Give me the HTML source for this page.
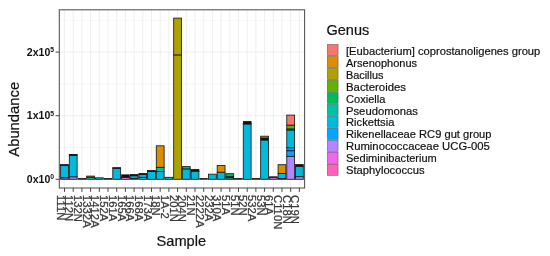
<!DOCTYPE html><html><head><meta charset="utf-8"><title>Abundance by Sample</title>
<style>html,body{margin:0;padding:0;background:#fff;}body{width:550px;height:256px;overflow:hidden;}svg{display:block;font-family:"Liberation Sans",sans-serif;}</style></head><body>
<svg width="550" height="256" viewBox="0 0 550 256">
<rect x="0" y="0" width="550" height="256" fill="#ffffff"/>
<g><line x1="59.3" x2="304.6" y1="147.50" y2="147.50" stroke="#efefef" stroke-width="0.5"/><line x1="59.3" x2="304.6" y1="83.90" y2="83.90" stroke="#efefef" stroke-width="0.5"/><line x1="59.3" x2="304.6" y1="20.30" y2="20.30" stroke="#efefef" stroke-width="0.5"/><line x1="59.3" x2="304.6" y1="179.30" y2="179.30" stroke="#ebebeb" stroke-width="0.8"/><line x1="59.3" x2="304.6" y1="115.70" y2="115.70" stroke="#ebebeb" stroke-width="0.8"/><line x1="59.3" x2="304.6" y1="52.10" y2="52.10" stroke="#ebebeb" stroke-width="0.8"/><line x1="64.52" x2="64.52" y1="9.8" y2="188.0" stroke="#ebebeb" stroke-width="0.8"/><line x1="73.22" x2="73.22" y1="9.8" y2="188.0" stroke="#ebebeb" stroke-width="0.8"/><line x1="81.92" x2="81.92" y1="9.8" y2="188.0" stroke="#ebebeb" stroke-width="0.8"/><line x1="90.61" x2="90.61" y1="9.8" y2="188.0" stroke="#ebebeb" stroke-width="0.8"/><line x1="99.31" x2="99.31" y1="9.8" y2="188.0" stroke="#ebebeb" stroke-width="0.8"/><line x1="108.01" x2="108.01" y1="9.8" y2="188.0" stroke="#ebebeb" stroke-width="0.8"/><line x1="116.71" x2="116.71" y1="9.8" y2="188.0" stroke="#ebebeb" stroke-width="0.8"/><line x1="125.41" x2="125.41" y1="9.8" y2="188.0" stroke="#ebebeb" stroke-width="0.8"/><line x1="134.11" x2="134.11" y1="9.8" y2="188.0" stroke="#ebebeb" stroke-width="0.8"/><line x1="142.81" x2="142.81" y1="9.8" y2="188.0" stroke="#ebebeb" stroke-width="0.8"/><line x1="151.50" x2="151.50" y1="9.8" y2="188.0" stroke="#ebebeb" stroke-width="0.8"/><line x1="160.20" x2="160.20" y1="9.8" y2="188.0" stroke="#ebebeb" stroke-width="0.8"/><line x1="168.90" x2="168.90" y1="9.8" y2="188.0" stroke="#ebebeb" stroke-width="0.8"/><line x1="177.60" x2="177.60" y1="9.8" y2="188.0" stroke="#ebebeb" stroke-width="0.8"/><line x1="186.30" x2="186.30" y1="9.8" y2="188.0" stroke="#ebebeb" stroke-width="0.8"/><line x1="195.00" x2="195.00" y1="9.8" y2="188.0" stroke="#ebebeb" stroke-width="0.8"/><line x1="203.70" x2="203.70" y1="9.8" y2="188.0" stroke="#ebebeb" stroke-width="0.8"/><line x1="212.40" x2="212.40" y1="9.8" y2="188.0" stroke="#ebebeb" stroke-width="0.8"/><line x1="221.09" x2="221.09" y1="9.8" y2="188.0" stroke="#ebebeb" stroke-width="0.8"/><line x1="229.79" x2="229.79" y1="9.8" y2="188.0" stroke="#ebebeb" stroke-width="0.8"/><line x1="238.49" x2="238.49" y1="9.8" y2="188.0" stroke="#ebebeb" stroke-width="0.8"/><line x1="247.19" x2="247.19" y1="9.8" y2="188.0" stroke="#ebebeb" stroke-width="0.8"/><line x1="255.89" x2="255.89" y1="9.8" y2="188.0" stroke="#ebebeb" stroke-width="0.8"/><line x1="264.59" x2="264.59" y1="9.8" y2="188.0" stroke="#ebebeb" stroke-width="0.8"/><line x1="273.29" x2="273.29" y1="9.8" y2="188.0" stroke="#ebebeb" stroke-width="0.8"/><line x1="281.98" x2="281.98" y1="9.8" y2="188.0" stroke="#ebebeb" stroke-width="0.8"/><line x1="290.68" x2="290.68" y1="9.8" y2="188.0" stroke="#ebebeb" stroke-width="0.8"/><line x1="299.38" x2="299.38" y1="9.8" y2="188.0" stroke="#ebebeb" stroke-width="0.8"/></g>
<g><rect x="60.60" y="177.80" width="7.83" height="1.50" fill="#B385FF" stroke="#1a1a1a" stroke-width="0.85"/><rect x="60.60" y="165.30" width="7.83" height="12.50" fill="#00BADE" stroke="#1a1a1a" stroke-width="0.85"/><rect x="60.60" y="164.40" width="7.83" height="0.90" fill="#111" stroke="#111" stroke-width="0.6"/><rect x="69.30" y="176.80" width="7.83" height="2.50" fill="#B385FF" stroke="#1a1a1a" stroke-width="0.85"/><rect x="69.30" y="155.60" width="7.83" height="21.20" fill="#00BADE" stroke="#1a1a1a" stroke-width="0.85"/><rect x="69.30" y="154.90" width="7.83" height="0.70" fill="#111" stroke="#111" stroke-width="0.6"/><rect x="69.30" y="154.50" width="7.83" height="0.40" fill="#DB8E00" stroke="#1a1a1a" stroke-width="0.85"/><rect x="78.00" y="178.30" width="7.83" height="1.00" fill="#111" stroke="#111" stroke-width="0.6"/><rect x="86.70" y="177.30" width="7.83" height="2.00" fill="#00C1A7" stroke="#1a1a1a" stroke-width="0.85"/><rect x="86.70" y="176.10" width="7.83" height="1.20" fill="#DB8E00" stroke="#1a1a1a" stroke-width="0.85"/><rect x="95.40" y="177.80" width="7.83" height="1.50" fill="#00BADE" stroke="#1a1a1a" stroke-width="0.85"/><rect x="104.10" y="178.30" width="7.83" height="1.00" fill="#111" stroke="#111" stroke-width="0.6"/><rect x="112.80" y="168.30" width="7.83" height="11.00" fill="#00BADE" stroke="#1a1a1a" stroke-width="0.85"/><rect x="112.80" y="167.50" width="7.83" height="0.80" fill="#111" stroke="#111" stroke-width="0.6"/><rect x="121.49" y="177.30" width="7.83" height="2.00" fill="#EF67EB" stroke="#1a1a1a" stroke-width="0.85"/><rect x="121.49" y="174.80" width="7.83" height="2.50" fill="#111" stroke="#111" stroke-width="0.6"/><rect x="130.19" y="178.30" width="7.83" height="1.00" fill="#111" stroke="#111" stroke-width="0.6"/><rect x="130.19" y="175.80" width="7.83" height="2.50" fill="#00BADE" stroke="#1a1a1a" stroke-width="0.85"/><rect x="130.19" y="174.30" width="7.83" height="1.50" fill="#111" stroke="#111" stroke-width="0.6"/><rect x="138.89" y="177.30" width="7.83" height="2.00" fill="#00BADE" stroke="#1a1a1a" stroke-width="0.85"/><rect x="138.89" y="174.30" width="7.83" height="3.00" fill="#00BADE" stroke="#1a1a1a" stroke-width="0.85"/><rect x="138.89" y="173.30" width="7.83" height="1.00" fill="#111" stroke="#111" stroke-width="0.6"/><rect x="147.59" y="171.30" width="7.83" height="8.00" fill="#00BADE" stroke="#1a1a1a" stroke-width="0.85"/><rect x="147.59" y="170.30" width="7.83" height="1.00" fill="#111" stroke="#111" stroke-width="0.6"/><rect x="156.29" y="171.60" width="7.83" height="7.70" fill="#00BADE" stroke="#1a1a1a" stroke-width="0.85"/><rect x="156.29" y="167.30" width="7.83" height="4.30" fill="#00C1A7" stroke="#1a1a1a" stroke-width="0.85"/><rect x="156.29" y="145.80" width="7.83" height="21.50" fill="#DB8E00" stroke="#1a1a1a" stroke-width="0.85"/><rect x="164.99" y="177.30" width="7.83" height="2.00" fill="#00C1A7" stroke="#1a1a1a" stroke-width="0.85"/><rect x="173.69" y="54.90" width="7.83" height="124.40" fill="#AEA200" stroke="#1a1a1a" stroke-width="0.85"/><rect x="173.69" y="18.10" width="7.83" height="36.80" fill="#AEA200" stroke="#1a1a1a" stroke-width="0.85"/><rect x="182.38" y="168.90" width="7.83" height="10.40" fill="#00BADE" stroke="#1a1a1a" stroke-width="0.85"/><rect x="182.38" y="166.60" width="7.83" height="2.30" fill="#00BD5C" stroke="#1a1a1a" stroke-width="0.85"/><rect x="191.08" y="171.30" width="7.83" height="8.00" fill="#00BADE" stroke="#1a1a1a" stroke-width="0.85"/><rect x="191.08" y="170.30" width="7.83" height="1.00" fill="#DB8E00" stroke="#1a1a1a" stroke-width="0.85"/><rect x="191.08" y="169.30" width="7.83" height="1.00" fill="#111" stroke="#111" stroke-width="0.6"/><rect x="199.78" y="178.30" width="7.83" height="1.00" fill="#111" stroke="#111" stroke-width="0.6"/><rect x="208.48" y="174.20" width="7.83" height="5.10" fill="#00BADE" stroke="#1a1a1a" stroke-width="0.85"/><rect x="217.18" y="172.20" width="7.83" height="7.10" fill="#00BADE" stroke="#1a1a1a" stroke-width="0.85"/><rect x="217.18" y="165.40" width="7.83" height="6.80" fill="#DB8E00" stroke="#1a1a1a" stroke-width="0.85"/><rect x="225.88" y="177.80" width="7.83" height="1.50" fill="#00C1A7" stroke="#1a1a1a" stroke-width="0.85"/><rect x="225.88" y="176.40" width="7.83" height="1.40" fill="#111" stroke="#111" stroke-width="0.6"/><rect x="225.88" y="173.70" width="7.83" height="2.70" fill="#00BD5C" stroke="#1a1a1a" stroke-width="0.85"/><rect x="234.58" y="178.30" width="7.83" height="1.00" fill="#111" stroke="#111" stroke-width="0.6"/><rect x="243.28" y="124.00" width="7.83" height="55.30" fill="#00BADE" stroke="#1a1a1a" stroke-width="0.85"/><rect x="243.28" y="123.30" width="7.83" height="0.70" fill="#00C1A7" stroke="#1a1a1a" stroke-width="0.85"/><rect x="243.28" y="121.30" width="7.83" height="2.00" fill="#111" stroke="#111" stroke-width="0.6"/><rect x="251.97" y="178.30" width="7.83" height="1.00" fill="#111" stroke="#111" stroke-width="0.6"/><rect x="260.67" y="140.00" width="7.83" height="39.30" fill="#00BADE" stroke="#1a1a1a" stroke-width="0.85"/><rect x="260.67" y="138.00" width="7.83" height="2.00" fill="#111" stroke="#111" stroke-width="0.6"/><rect x="260.67" y="136.20" width="7.83" height="1.80" fill="#DB8E00" stroke="#1a1a1a" stroke-width="0.85"/><rect x="269.37" y="177.30" width="7.83" height="2.00" fill="#B385FF" stroke="#1a1a1a" stroke-width="0.85"/><rect x="269.37" y="176.80" width="7.83" height="0.50" fill="#111" stroke="#111" stroke-width="0.6"/><rect x="278.07" y="178.60" width="7.83" height="0.70" fill="#B385FF" stroke="#1a1a1a" stroke-width="0.85"/><rect x="278.07" y="173.40" width="7.83" height="5.20" fill="#00BADE" stroke="#1a1a1a" stroke-width="0.85"/><rect x="278.07" y="164.70" width="7.83" height="8.70" fill="#DB8E00" stroke="#1a1a1a" stroke-width="0.85"/><rect x="286.77" y="156.30" width="7.83" height="23.00" fill="#B385FF" stroke="#1a1a1a" stroke-width="0.85"/><rect x="286.77" y="150.70" width="7.83" height="5.60" fill="#00A6FF" stroke="#1a1a1a" stroke-width="0.85"/><rect x="286.77" y="147.70" width="7.83" height="3.00" fill="#00A6FF" stroke="#1a1a1a" stroke-width="0.85"/><rect x="286.77" y="130.00" width="7.83" height="17.70" fill="#00BADE" stroke="#1a1a1a" stroke-width="0.85"/><rect x="286.77" y="128.90" width="7.83" height="1.10" fill="#00C1A7" stroke="#1a1a1a" stroke-width="0.85"/><rect x="286.77" y="125.10" width="7.83" height="3.80" fill="#64B200" stroke="#1a1a1a" stroke-width="0.85"/><rect x="286.77" y="115.10" width="7.83" height="10.00" fill="#F8766D" stroke="#1a1a1a" stroke-width="0.85"/><rect x="295.47" y="176.70" width="7.83" height="2.60" fill="#B385FF" stroke="#1a1a1a" stroke-width="0.85"/><rect x="295.47" y="166.30" width="7.83" height="10.40" fill="#00BADE" stroke="#1a1a1a" stroke-width="0.85"/><rect x="295.47" y="164.30" width="7.83" height="2.00" fill="#111" stroke="#111" stroke-width="0.6"/></g>
<rect x="59.3" y="9.8" width="245.3" height="178.2" fill="none" stroke="#505050" stroke-width="1.05"/>
<g><line x1="64.52" x2="64.52" y1="188.0" y2="191.9" stroke="#333" stroke-width="0.9"/><line x1="73.22" x2="73.22" y1="188.0" y2="191.9" stroke="#333" stroke-width="0.9"/><line x1="81.92" x2="81.92" y1="188.0" y2="191.9" stroke="#333" stroke-width="0.9"/><line x1="90.61" x2="90.61" y1="188.0" y2="191.9" stroke="#333" stroke-width="0.9"/><line x1="99.31" x2="99.31" y1="188.0" y2="191.9" stroke="#333" stroke-width="0.9"/><line x1="108.01" x2="108.01" y1="188.0" y2="191.9" stroke="#333" stroke-width="0.9"/><line x1="116.71" x2="116.71" y1="188.0" y2="191.9" stroke="#333" stroke-width="0.9"/><line x1="125.41" x2="125.41" y1="188.0" y2="191.9" stroke="#333" stroke-width="0.9"/><line x1="134.11" x2="134.11" y1="188.0" y2="191.9" stroke="#333" stroke-width="0.9"/><line x1="142.81" x2="142.81" y1="188.0" y2="191.9" stroke="#333" stroke-width="0.9"/><line x1="151.50" x2="151.50" y1="188.0" y2="191.9" stroke="#333" stroke-width="0.9"/><line x1="160.20" x2="160.20" y1="188.0" y2="191.9" stroke="#333" stroke-width="0.9"/><line x1="168.90" x2="168.90" y1="188.0" y2="191.9" stroke="#333" stroke-width="0.9"/><line x1="177.60" x2="177.60" y1="188.0" y2="191.9" stroke="#333" stroke-width="0.9"/><line x1="186.30" x2="186.30" y1="188.0" y2="191.9" stroke="#333" stroke-width="0.9"/><line x1="195.00" x2="195.00" y1="188.0" y2="191.9" stroke="#333" stroke-width="0.9"/><line x1="203.70" x2="203.70" y1="188.0" y2="191.9" stroke="#333" stroke-width="0.9"/><line x1="212.40" x2="212.40" y1="188.0" y2="191.9" stroke="#333" stroke-width="0.9"/><line x1="221.09" x2="221.09" y1="188.0" y2="191.9" stroke="#333" stroke-width="0.9"/><line x1="229.79" x2="229.79" y1="188.0" y2="191.9" stroke="#333" stroke-width="0.9"/><line x1="238.49" x2="238.49" y1="188.0" y2="191.9" stroke="#333" stroke-width="0.9"/><line x1="247.19" x2="247.19" y1="188.0" y2="191.9" stroke="#333" stroke-width="0.9"/><line x1="255.89" x2="255.89" y1="188.0" y2="191.9" stroke="#333" stroke-width="0.9"/><line x1="264.59" x2="264.59" y1="188.0" y2="191.9" stroke="#333" stroke-width="0.9"/><line x1="273.29" x2="273.29" y1="188.0" y2="191.9" stroke="#333" stroke-width="0.9"/><line x1="281.98" x2="281.98" y1="188.0" y2="191.9" stroke="#333" stroke-width="0.9"/><line x1="290.68" x2="290.68" y1="188.0" y2="191.9" stroke="#333" stroke-width="0.9"/><line x1="299.38" x2="299.38" y1="188.0" y2="191.9" stroke="#333" stroke-width="0.9"/><line x1="55.6" x2="59.3" y1="179.30" y2="179.30" stroke="#333" stroke-width="0.9"/><line x1="55.6" x2="59.3" y1="115.70" y2="115.70" stroke="#333" stroke-width="0.9"/><line x1="55.6" x2="59.3" y1="52.10" y2="52.10" stroke="#333" stroke-width="0.9"/></g>
<g><text x="54.0" y="183.00" text-anchor="end" font-size="10.5" font-weight="bold" fill="#111">0x10<tspan font-size="6.8" dy="-3.7">0</tspan></text><text x="54.0" y="119.40" text-anchor="end" font-size="10.5" font-weight="bold" fill="#111">1x10<tspan font-size="6.8" dy="-3.7">5</tspan></text><text x="54.0" y="55.80" text-anchor="end" font-size="10.5" font-weight="bold" fill="#111">2x10<tspan font-size="6.8" dy="-3.7">5</tspan></text></g>
<g><text transform="translate(56.62,195.0) rotate(90)" font-size="11.3" fill="#3a3a3a" stroke="#3a3a3a" stroke-width="0.25">111N</text><text transform="translate(65.32,195.0) rotate(90)" font-size="11.3" fill="#3a3a3a" stroke="#3a3a3a" stroke-width="0.25">112N</text><text transform="translate(74.02,195.0) rotate(90)" font-size="11.3" fill="#3a3a3a" stroke="#3a3a3a" stroke-width="0.25">132N</text><text transform="translate(82.71,195.0) rotate(90)" font-size="11.3" fill="#3a3a3a" stroke="#3a3a3a" stroke-width="0.25">1332A</text><text transform="translate(91.41,195.0) rotate(90)" font-size="11.3" fill="#3a3a3a" stroke="#3a3a3a" stroke-width="0.25">1412A</text><text transform="translate(100.11,195.0) rotate(90)" font-size="11.3" fill="#3a3a3a" stroke="#3a3a3a" stroke-width="0.25">152A</text><text transform="translate(108.81,195.0) rotate(90)" font-size="11.3" fill="#3a3a3a" stroke="#3a3a3a" stroke-width="0.25">161A</text><text transform="translate(117.51,195.0) rotate(90)" font-size="11.3" fill="#3a3a3a" stroke="#3a3a3a" stroke-width="0.25">165A</text><text transform="translate(126.21,195.0) rotate(90)" font-size="11.3" fill="#3a3a3a" stroke="#3a3a3a" stroke-width="0.25">166A</text><text transform="translate(134.91,195.0) rotate(90)" font-size="11.3" fill="#3a3a3a" stroke="#3a3a3a" stroke-width="0.25">168A</text><text transform="translate(143.60,195.0) rotate(90)" font-size="11.3" fill="#3a3a3a" stroke="#3a3a3a" stroke-width="0.25">173A</text><text transform="translate(152.30,195.0) rotate(90)" font-size="11.3" fill="#3a3a3a" stroke="#3a3a3a" stroke-width="0.25">18N</text><text transform="translate(161.00,195.0) rotate(90)" font-size="11.3" fill="#3a3a3a" stroke="#3a3a3a" stroke-width="0.25">1A-2</text><text transform="translate(169.70,195.0) rotate(90)" font-size="11.3" fill="#3a3a3a" stroke="#3a3a3a" stroke-width="0.25">201N</text><text transform="translate(178.40,195.0) rotate(90)" font-size="11.3" fill="#3a3a3a" stroke="#3a3a3a" stroke-width="0.25">204N</text><text transform="translate(187.10,195.0) rotate(90)" font-size="11.3" fill="#3a3a3a" stroke="#3a3a3a" stroke-width="0.25">21N</text><text transform="translate(195.80,195.0) rotate(90)" font-size="11.3" fill="#3a3a3a" stroke="#3a3a3a" stroke-width="0.25">2222A</text><text transform="translate(204.50,195.0) rotate(90)" font-size="11.3" fill="#3a3a3a" stroke="#3a3a3a" stroke-width="0.25">232A</text><text transform="translate(213.19,195.0) rotate(90)" font-size="11.3" fill="#3a3a3a" stroke="#3a3a3a" stroke-width="0.25">310A</text><text transform="translate(221.89,195.0) rotate(90)" font-size="11.3" fill="#3a3a3a" stroke="#3a3a3a" stroke-width="0.25">51A</text><text transform="translate(230.59,195.0) rotate(90)" font-size="11.3" fill="#3a3a3a" stroke="#3a3a3a" stroke-width="0.25">51N</text><text transform="translate(239.29,195.0) rotate(90)" font-size="11.3" fill="#3a3a3a" stroke="#3a3a3a" stroke-width="0.25">52N</text><text transform="translate(247.99,195.0) rotate(90)" font-size="11.3" fill="#3a3a3a" stroke="#3a3a3a" stroke-width="0.25">532A</text><text transform="translate(256.69,195.0) rotate(90)" font-size="11.3" fill="#3a3a3a" stroke="#3a3a3a" stroke-width="0.25">53N</text><text transform="translate(265.39,195.0) rotate(90)" font-size="11.3" fill="#3a3a3a" stroke="#3a3a3a" stroke-width="0.25">61A</text><text transform="translate(274.08,195.0) rotate(90)" font-size="11.3" fill="#3a3a3a" stroke="#3a3a3a" stroke-width="0.25">C110N</text><text transform="translate(282.78,195.0) rotate(90)" font-size="11.3" fill="#3a3a3a" stroke="#3a3a3a" stroke-width="0.25">C18N</text><text transform="translate(291.48,195.0) rotate(90)" font-size="11.3" fill="#3a3a3a" stroke="#3a3a3a" stroke-width="0.25">C19N</text></g>
<text x="181.3" y="245.8" text-anchor="middle" font-size="14.6" fill="#111" stroke="#111" stroke-width="0.2">Sample</text>
<text transform="translate(19.2,119.3) rotate(-90)" text-anchor="middle" font-size="14.2" textLength="74.8" lengthAdjust="spacingAndGlyphs" fill="#111" stroke="#111" stroke-width="0.2">Abundance</text>
<text x="326.5" y="35.2" font-size="14.5" fill="#111" stroke="#111" stroke-width="0.2">Genus</text>
<g><rect x="327.4" y="44.50" width="10.7" height="11.1" fill="#F8766D" stroke="#000" stroke-opacity="0.5" stroke-width="0.6"/><text x="346" y="54.60" font-size="11.25" fill="#111" stroke="#111" stroke-width="0.2" textLength="194.3" lengthAdjust="spacingAndGlyphs">[Eubacterium] coprostanoligenes group</text><rect x="327.4" y="56.48" width="10.7" height="11.1" fill="#DB8E00" stroke="#000" stroke-opacity="0.5" stroke-width="0.6"/><text x="346" y="66.58" font-size="11.25" fill="#111" stroke="#111" stroke-width="0.2" textLength="71.1" lengthAdjust="spacingAndGlyphs">Arsenophonus</text><rect x="327.4" y="68.46" width="10.7" height="11.1" fill="#AEA200" stroke="#000" stroke-opacity="0.5" stroke-width="0.6"/><text x="346" y="78.56" font-size="11.25" fill="#111" stroke="#111" stroke-width="0.2" textLength="37.4" lengthAdjust="spacingAndGlyphs">Bacillus</text><rect x="327.4" y="80.44" width="10.7" height="11.1" fill="#64B200" stroke="#000" stroke-opacity="0.5" stroke-width="0.6"/><text x="346" y="90.54" font-size="11.25" fill="#111" stroke="#111" stroke-width="0.2" textLength="60.0" lengthAdjust="spacingAndGlyphs">Bacteroides</text><rect x="327.4" y="92.42" width="10.7" height="11.1" fill="#00BD5C" stroke="#000" stroke-opacity="0.5" stroke-width="0.6"/><text x="346" y="102.52" font-size="11.25" fill="#111" stroke="#111" stroke-width="0.2" textLength="39.4" lengthAdjust="spacingAndGlyphs">Coxiella</text><rect x="327.4" y="104.40" width="10.7" height="11.1" fill="#00C1A7" stroke="#000" stroke-opacity="0.5" stroke-width="0.6"/><text x="346" y="114.50" font-size="11.25" fill="#111" stroke="#111" stroke-width="0.2" textLength="71.9" lengthAdjust="spacingAndGlyphs">Pseudomonas</text><rect x="327.4" y="116.38" width="10.7" height="11.1" fill="#00BADE" stroke="#000" stroke-opacity="0.5" stroke-width="0.6"/><text x="346" y="126.48" font-size="11.25" fill="#111" stroke="#111" stroke-width="0.2" textLength="48.4" lengthAdjust="spacingAndGlyphs">Rickettsia</text><rect x="327.4" y="128.36" width="10.7" height="11.1" fill="#00A6FF" stroke="#000" stroke-opacity="0.5" stroke-width="0.6"/><text x="346" y="138.46" font-size="11.25" fill="#111" stroke="#111" stroke-width="0.2" textLength="145.5" lengthAdjust="spacingAndGlyphs">Rikenellaceae RC9 gut group</text><rect x="327.4" y="140.34" width="10.7" height="11.1" fill="#B385FF" stroke="#000" stroke-opacity="0.5" stroke-width="0.6"/><text x="346" y="150.44" font-size="11.25" fill="#111" stroke="#111" stroke-width="0.2" textLength="143.8" lengthAdjust="spacingAndGlyphs">Ruminococcaceae UCG-005</text><rect x="327.4" y="152.32" width="10.7" height="11.1" fill="#EF67EB" stroke="#000" stroke-opacity="0.5" stroke-width="0.6"/><text x="346" y="162.42" font-size="11.25" fill="#111" stroke="#111" stroke-width="0.2" textLength="90.8" lengthAdjust="spacingAndGlyphs">Sediminibacterium</text><rect x="327.4" y="164.30" width="10.7" height="11.1" fill="#FF63B6" stroke="#000" stroke-opacity="0.5" stroke-width="0.6"/><text x="346" y="174.40" font-size="11.25" fill="#111" stroke="#111" stroke-width="0.2" textLength="78.5" lengthAdjust="spacingAndGlyphs">Staphylococcus</text></g>
</svg></body></html>
